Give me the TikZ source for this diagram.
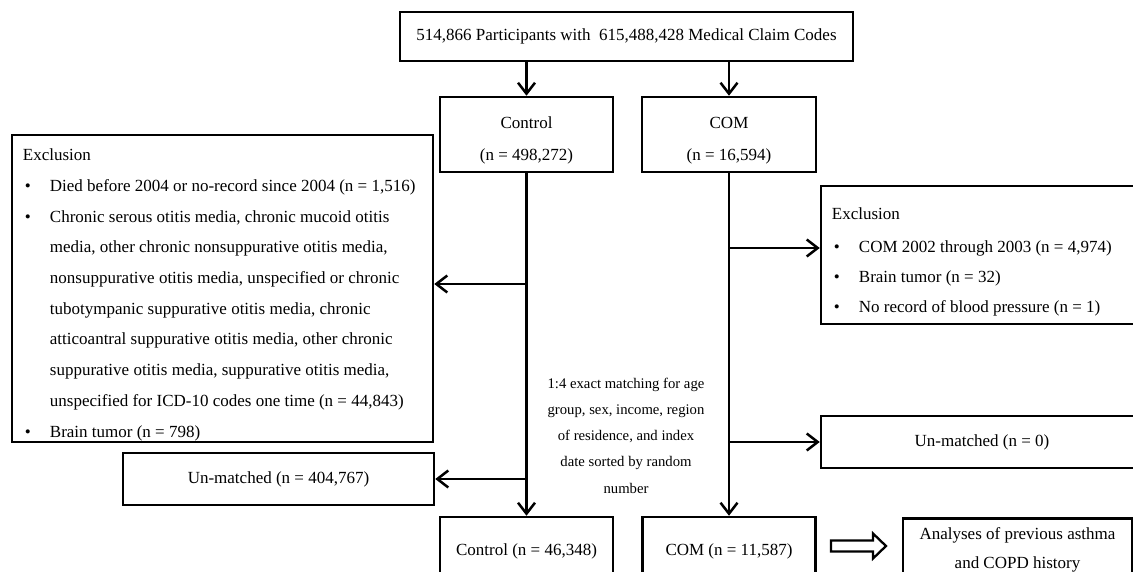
\documentclass[tikz,border=0pt]{standalone}
\usepackage{fontspec}
\setmainfont{Liberation Serif}
\usetikzlibrary{arrows.meta}
%% bullet and indent for the exclusion lists
\newcommand{\bul}{\hspace*{2pt}\makebox[25pt][l]{\textbullet}}
\newcommand{\ind}{\hspace*{27pt}}
%% pushes a two line label a little down
\newcommand{\lowr}{\rule{0pt}{24pt}}
\tikzset{
  box/.style={draw, line width=2.5pt, inner sep=0pt, align=center, font=\fontsize{17}{32}\selectfont},
  exlist/.style={inner sep=0pt, align=left, anchor=north west, font=\fontsize{17}{30.7}\selectfont},
  flow/.style={line width=2.5pt, -{Straight Barb[length=11pt,width=17pt]}},
}
\begin{document}
\begin{tikzpicture}[x=1pt,y=-1pt]
%% one unit is one pixel of the reference, y runs downwards
\useasboundingbox (0,0) rectangle (1133,572);
%% top row
\node[box, minimum width=453pt, minimum height=49pt] (top) at (626.5,36.5) {514,866 Participants with\enspace 615,488,428 Medical Claim Codes};
\node[box, minimum width=173pt, minimum height=75pt] (ctrl) at (526.5,134.5) {\lowr Control\\(n = 498,272)};
\node[box, minimum width=174pt, minimum height=75pt] (com) at (729,134.5) {\lowr COM\\(n = 16,594)};
%% exclusion boxes, the lists are set inside them
\node[box, minimum width=421pt, minimum height=307pt] (lexcl) at (222.5,288.5) {};
\node[exlist] (llist) at ([shift={(12,15)}]lexcl.north west) {Exclusion\\
\bul Died before 2004 or no-record since 2004 (n = 1,516)\\
\bul Chronic serous otitis media, chronic mucoid otitis\\
\ind media, other chronic nonsuppurative otitis media,\\
\ind nonsuppurative otitis media, unspecified or chronic\\
\ind tubotympanic suppurative otitis media, chronic\\
\ind atticoantral suppurative otitis media, other chronic\\
\ind suppurative otitis media, suppurative otitis media,\\
\ind unspecified for ICD-10 codes one time (n = 44,843)\\
\bul Brain tumor (n = 798)};
\node[box, minimum width=322pt, minimum height=138pt] (rexcl) at (982,255) {};
\node[exlist, font=\fontsize{17}{30}\selectfont] (rlist) at ([shift={(12,23)}]rexcl.north west) {Exclusion\\[3pt]
\bul COM 2002 through 2003 (n = 4,974)\\
\bul Brain tumor (n = 32)\\
\bul No record of blood pressure (n = 1)};
%% matching
\node[align=center, inner sep=0pt, font=\fontsize{14.7}{26.2}\selectfont] (match) at (626,435.5) {1:4 exact matching for age\\group, sex, income, region\\of residence, and index\\date sorted by random\\number};
\node[box, minimum width=311pt, minimum height=52pt] (lunm) at (278.5,479) {Un-matched (n = 404,767)};
\node[box, minimum width=322pt, minimum height=52pt] (runm) at (982,442) {Un-matched (n = 0)};
%% bottom row
\node[box, minimum width=173pt, minimum height=68pt] (ctrl2) at (526.5,551) {Control (n = 46,348)};
\node[box, minimum width=173pt, minimum height=68pt] (com2) at (729,551) {COM (n = 11,587)};
\node[box, minimum width=229pt, minimum height=63pt, font=\fontsize{17}{29}\selectfont] (anal) at (1017.5,550) {Analyses of previous asthma\\and COPD history};
%% arrows
\draw[flow] (top.south -| ctrl.north) -- (ctrl.north);
\draw[flow] (top.south -| com.north) -- (com.north);
\draw[flow] (ctrl.south) -- (ctrl2.north);
\draw[flow] (com.south) -- (com2.north);
\coordinate (lj) at (ctrl.south |- 0,284);
\draw[flow] (lj) -- (lj -| lexcl.east);
\draw[flow] (ctrl.south |- lunm.east) -- (lunm.east);
\coordinate (rj) at (com.south |- 0,248);
\draw[flow] (rj) -- (rj -| rexcl.west);
\draw[flow] (com.south |- runm.west) -- (runm.west);
%% hollow arrow to the analyses
\draw[line width=2.3pt, miter limit=4] (831,540.5) -- (873,540.5) -- (873,533.5) -- (886,546) -- (873,558.5) -- (873,551.5) -- (831,551.5) -- cycle;
\end{tikzpicture}
\end{document}
